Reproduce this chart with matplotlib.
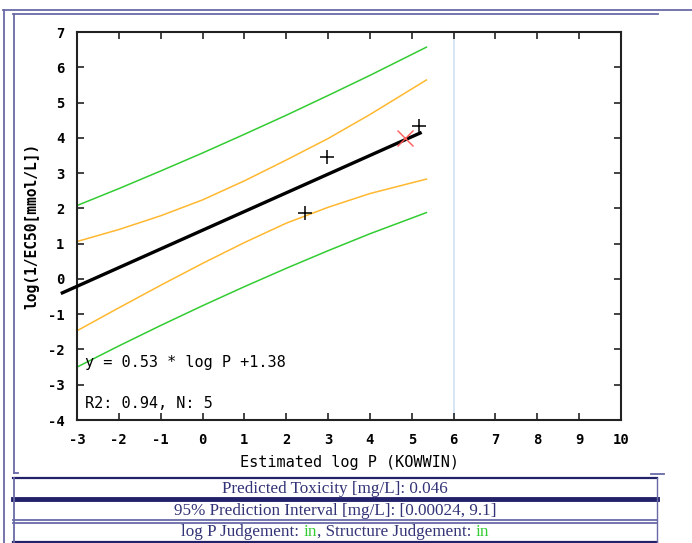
import matplotlib
matplotlib.use("Agg")
import matplotlib.pyplot as plt

# values
band_x = [-3, -2, -1, 0, 1, 2, 3, 4, 5.35]
pred_upper = [2.08, 2.56, 3.06, 3.57, 4.10, 4.64, 5.20, 5.77, 6.57]
pred_lower = [-2.50, -1.90, -1.32, -0.76, -0.22, 0.30, 0.80, 1.28, 1.88]
conf_upper = [1.06, 1.40, 1.79, 2.24, 2.78, 3.37, 3.98, 4.66, 5.64]
conf_lower = [-1.47, -0.82, -0.18, 0.44, 1.03, 1.58, 2.03, 2.42, 2.83]

slope, intercept = 0.53, 1.38
fit_x = [-3.35, 5.2]

train_x = [2.45, 2.98, 5.18]
train_y = [1.88, 3.46, 4.33]
query_x = [4.85]
query_y = [4.0]
domain_limit = 6

x_ticks = list(range(-3, 11))
y_ticks = list(range(-4, 8))

box_lines = [
    "Predicted Toxicity [mg/L]: 0.046",
    "95% Prediction Interval [mg/L]: [0.00024, 9.1]",
]
judge_parts = [("log P Judgement: ", "#333377"), ("in", "#33cc33"),
               (", Structure Judgement: ", "#333377"), ("in", "#33cc33")]

W, H = 692, 543
fig = plt.figure(figsize=(W / 100, H / 100), dpi=100)

# frame / table decoration in pixel coordinates
deco = fig.add_axes([0, 0, 1, 1])
deco.set_xlim(0, W)
deco.set_ylim(H, 0)
deco.axis("off")
light = "#6a6aa8"
navy = "#22226a"
deco.plot([3, W], [9.5, 9.5], color=light, lw=1.3)
deco.plot([3.5, 3.5], [9.5, H], color=light, lw=1.3)
deco.plot([13, 658], [13.5, 13.5], color=light, lw=1.3)
deco.plot([13.5, 13.5], [13.5, 473], color=light, lw=1.3)
deco.plot([13.5, 18], [473, 473], color=light, lw=1.3)
deco.plot([651, 664], [473.5, 473.5], color=light, lw=1.3)
# boxes
deco.plot([13, 657], [478, 478], color=navy, lw=1.6)
deco.plot([13, 657], [499, 499], color=navy, lw=3.5)
deco.plot([13, 657], [520, 520], color=light, lw=1.3)
deco.plot([13, 657], [523, 523], color=light, lw=1.3)
deco.plot([13, 657], [541.5, 541.5], color=navy, lw=1.6)
deco.plot([13.5, 13.5], [478, 541.5], color=light, lw=1.3)
deco.plot([656.5, 656.5], [478, 541.5], color=light, lw=1)

serif = "Liberation Serif"
fs = 12.3
deco.text(335, 489, box_lines[0], ha="center", va="center",
          family=serif, fontsize=fs, color="#333377")
deco.text(335, 511, box_lines[1], ha="center", va="center",
          family=serif, fontsize=fs, color="#333377")
prev = None
for txt, col in judge_parts:
    if prev is None:
        prev = deco.text(181, 532, txt, ha="left", va="center",
                         family=serif, fontsize=fs, color=col)
    else:
        prev = deco.annotate(txt, xy=(1, 0), xycoords=prev, ha="left",
                             va="bottom", family=serif, fontsize=fs,
                             color=col)

# main plot
ax = fig.add_axes([77 / W, 1 - 420 / H, 544 / W, 388 / H])
ax.set_xlim(-3, 10)
ax.set_ylim(-4, 7)

mono = "DejaVu Sans Mono"
ax.axvline(domain_limit, color="#d0e2f2", lw=1.2, zorder=1)
ax.plot(band_x, pred_upper, color="#33cc33", lw=1.1)
ax.plot(band_x, pred_lower, color="#33cc33", lw=1.1)
ax.plot(band_x, conf_upper, color="#ffb830", lw=1.1)
ax.plot(band_x, conf_lower, color="#ffb830", lw=1.1)
fit_y = [slope * v + intercept for v in fit_x]
ax.plot(fit_x, fit_y, color="black", lw=2.4, clip_on=False, zorder=3)
ax.plot(train_x, train_y, "+", color="black", ms=10, mew=1.1, zorder=4)
ax.plot(query_x, query_y, "x", color="#ff5a5a", ms=11, mew=1.0, zorder=4)

ax.text(-2.82, -2.36, "y = 0.53 * log P +1.38", family=mono, fontsize=11,
        va="center", ha="left")
ax.text(-2.82, -3.53, "R2: 0.94, N: 5", family=mono, fontsize=11,
        va="center", ha="left")

ax.set_xticks(x_ticks)
ax.set_yticks(y_ticks)
ax.set_xticklabels([str(v) for v in x_ticks], family=mono, weight="bold",
                   fontsize=10)
ax.set_yticklabels([str(v) for v in y_ticks], family=mono, weight="bold",
                   fontsize=10)
ax.tick_params(direction="in", length=5, width=1.2, top=True, right=True,
               pad=9, colors="#222222", labelcolor="black")
for s in ax.spines.values():
    s.set_linewidth(1.5)
    s.set_color("#222222")
ax.set_xlabel("Estimated log P (KOWWIN)", family=mono, fontsize=11,
              labelpad=6)
ax.set_ylabel("log(1/EC50[mmol/L])", family=mono, fontsize=10.5,
              weight="bold", labelpad=6)

fig.savefig("out.png", dpi=100)
